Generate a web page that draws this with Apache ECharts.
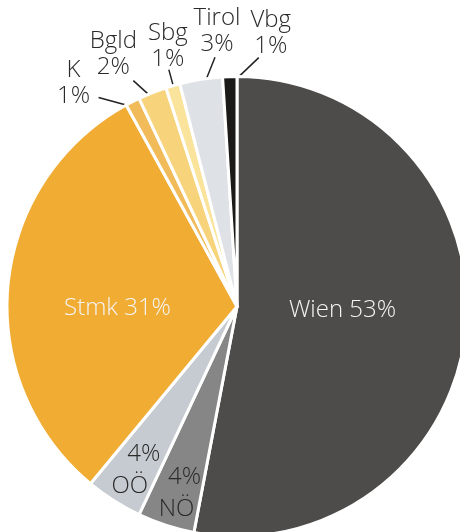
<!DOCTYPE html>
<html>
<head>
<meta charset="utf-8">
<script src="https://cdn.jsdelivr.net/npm/echarts@6/dist/echarts.min.js"></script>
<style>
  html, body { margin: 0; padding: 0; background: #fff; }
  #chart { width: 460px; height: 532px; }
</style>
</head>
<body>
<div id="chart"></div>
<script>
// Anteile nach Bundesland (%), im Uhrzeigersinn ab 12 Uhr
const regions = ['Wien', 'NÖ', 'OÖ', 'Stmk', 'K', 'Bgld', 'Sbg', 'Tirol', 'Vbg']
const shares = [53, 4, 4, 31, 1, 2, 1, 3, 1]

const colors = ['#4e4c4a', '#868686', '#c5cbd0', '#f0ac33', '#f2bb5a', '#f7d37b', '#fae49c', '#dee2e6', '#1b1a18']

// Label-Platzierung: line = [startDx, startDy, endDx, endDy] relativ zum Randpunkt,
// dx/dy = Verschiebung des Textes (bei Außenlabels relativ zum Linienende)
const placement = {
  'Wien': { dx: -12, dy: -7 },
  'NÖ': { dx: -24, dy: 74 },
  'OÖ': { dx: -44, dy: 64 },
  'Stmk': { dx: -2, dy: 13 },
  'K': { line: [-1, 5, -34, -4], dx: -25, dy: -14 },
  'Bgld': { line: [3, 8, -19, -12], dx: -20, dy: -26 },
  'Sbg': { line: [2, 6, -4, -16], dx: -1, dy: -23 },
  'Tirol': { line: [2, 8, 14, -22], dx: 2, dy: -26 },
  'Vbg': { line: [7, 2, 29, -19], dx: 12, dy: -24 }
}

const font = '"Open Sans", "Noto Sans", sans-serif'
const fontSize = 24
const fontWeight = 300

const seriesData = regions.map((name, i) => {
  const item = { name: name, value: shares[i], itemStyle: { color: colors[i] } }
  if (name === 'Wien' || name === 'Stmk') {
    item.label = { position: 'inside', color: '#f4f4f4', formatter: '{b} {c}%' }
    item.labelLine = { show: false }
  } else if (name === 'NÖ' || name === 'OÖ') {
    item.label = {
      position: 'inside',
      formatter: '{p|{c}%}\n{n|{b}}',
      rich: {
        p: { fontFamily: font, fontSize: fontSize, fontWeight: fontWeight, color: '#2a2a2a', lineHeight: 32, padding: [0, 0, 0, name === 'NÖ' ? 16 : 28] },
        n: { fontFamily: font, fontSize: fontSize, fontWeight: fontWeight, color: '#2a2a2a', lineHeight: 32 }
      }
    }
    item.labelLine = { show: false }
  } else {
    item.label = { position: 'outside', formatter: '{b}\n{c}%', color: '#2a2a2a', lineHeight: 26 }
    item.labelLine = { show: true, length: 20, length2: 0, lineStyle: { color: '#222', width: 1.5 } }
  }
  return item
})

const myChart = echarts.init(document.getElementById('chart'))
const option = {
  animation: false,
  series: [{
    type: 'pie',
    center: [237, 306.5],
    radius: [0, 230],
    startAngle: 90,
    clockwise: true,
    avoidLabelOverlap: false,
    itemStyle: { borderColor: '#fff', borderWidth: 3 },
    label: { fontFamily: font, fontSize: fontSize, fontWeight: fontWeight },
    emphasis: { disabled: true },
    labelLayout: function (params) {
      const o = placement[regions[params.dataIndex]]
      if (!o.line || !params.labelLinePoints) {
        return { dx: o.dx, dy: o.dy }
      }
      const p = params.labelLinePoints[0]
      const start = [p[0] + o.line[0], p[1] + o.line[1]]
      const end = [p[0] + o.line[2], p[1] + o.line[3]]
      return {
        x: end[0] + o.dx,
        y: end[1] + o.dy,
        align: 'center',
        verticalAlign: 'middle',
        labelLinePoints: [start, end]
      }
    },
    data: seriesData
  }]
}
myChart.setOption(option)
</script>
</body>
</html>
